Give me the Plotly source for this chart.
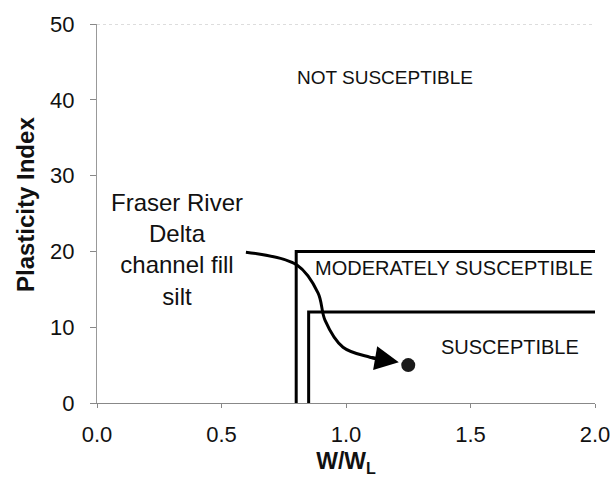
import plotly.graph_objects as go

# Susceptibility boundaries (W/WL, PI)
mod_x = [0.80, 0.80, 2.0]
mod_y = [0, 20, 20]
sus_x = [0.85, 0.85, 2.0]
sus_y = [0, 12, 12]

# Fraser River Delta channel fill silt
silt_x = [1.25]
silt_y = [5.0]

# Leader curve from the label towards the data point
lead_x = [0.598, 0.803, 0.888, 0.916, 0.988, 1.096, 1.16]
lead_y = [19.9, 18.2, 14.5, 10.9, 7.36, 6.04, 5.6]
head_tip = (1.212, 5.38)

x_ticks = [0.0, 0.5, 1.0, 1.5, 2.0]
y_ticks = [0, 10, 20, 30, 40, 50]

FONT = "Liberation Sans, Arial, sans-serif"

fig = go.Figure()
fig.add_trace(go.Scatter(x=mod_x, y=mod_y, mode="lines",
                         line=dict(color="black", width=3), hoverinfo="skip"))
fig.add_trace(go.Scatter(x=sus_x, y=sus_y, mode="lines",
                         line=dict(color="black", width=3), hoverinfo="skip"))
fig.add_trace(go.Scatter(x=lead_x, y=lead_y, mode="lines",
                         line=dict(color="black", width=3, shape="spline", smoothing=1.0),
                         hoverinfo="skip"))
fig.add_trace(go.Scatter(x=silt_x, y=silt_y, mode="markers",
                         marker=dict(color="#1a1a1a", size=14), hoverinfo="skip"))

# arrowhead at the end of the leader
fig.add_annotation(x=head_tip[0], y=head_tip[1], ax=lead_x[-2], ay=lead_y[-2],
                   xref="x", yref="y", axref="x", ayref="y", text="",
                   showarrow=True, arrowhead=2, arrowsize=1.6, arrowwidth=3,
                   arrowcolor="black", standoff=0)

label_font = dict(family=FONT, size=20, color="#111")
fig.add_annotation(x=1.157, y=42.9, text="NOT SUSCEPTIBLE", showarrow=False,
                   font=dict(family=FONT, size=19, color="#111"))
fig.add_annotation(x=1.434, y=17.8, text="MODERATELY SUSCEPTIBLE", showarrow=False, font=label_font)
fig.add_annotation(x=1.657, y=7.35, text="SUSCEPTIBLE", showarrow=False, font=label_font)
fig.add_annotation(x=0.32, y=20.2, text="Fraser River<br>Delta<br>channel fill<br>silt",
                   showarrow=False, font=dict(family=FONT, size=24, color="#111"))

# y-axis title
fig.add_annotation(x=-0.1446, y=0.525, xref="paper", yref="paper", textangle=-90,
                   xanchor="center", yanchor="middle",
                   text="<b>Plasticity Index</b>", showarrow=False,
                   font=dict(family=FONT, size=24, color="#111"))

# faint top frame line at PI = 50
fig.add_shape(type="line", x0=0, x1=2, y0=50, y1=50, xref="x", yref="y",
              line=dict(color="#bbbbbb", width=1, dash="dot"))

fig.update_layout(
    width=614, height=478,
    margin=dict(l=97, r=19, t=24, b=75),
    paper_bgcolor="white", plot_bgcolor="white",
    showlegend=False,
    font=dict(family=FONT, color="#111"),
    xaxis=dict(range=[0, 2.0], tickvals=x_ticks, ticktext=[f"{v:.1f}" for v in x_ticks],
               showgrid=False, zeroline=False, showline=True, linecolor="#888",
               linewidth=1, ticks="outside", ticklen=4, tickcolor="#888",
               ticklabelstandoff=8, automargin=False,
               tickfont=dict(family=FONT, size=22, color="#111"),
               title=dict(text="<b>W/W<sub>L</sub></b>", font=dict(family=FONT, size=23),
                          standoff=6)),
    yaxis=dict(range=[0, 50], tickvals=y_ticks, showgrid=False, zeroline=False,
               showline=True, linecolor="#999", linewidth=1, ticks="outside",
               ticklen=6, tickcolor="#888", ticklabelstandoff=11, automargin=False,
               tickfont=dict(family=FONT, size=22, color="#111")),
)

fig.write_html("out.html")
